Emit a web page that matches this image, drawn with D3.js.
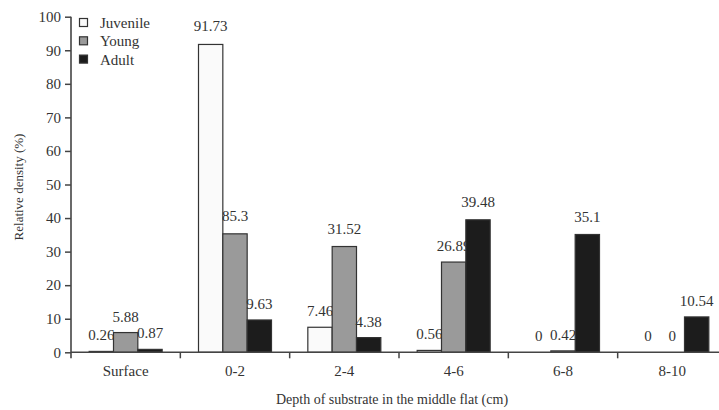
<!DOCTYPE html>
<html>
<head>
<meta charset="utf-8">
<script src="https://cdn.jsdelivr.net/npm/d3@7/dist/d3.min.js"></script>
<style>
  html, body { margin: 0; padding: 0; background: #fff; }
  svg { display: block; }
  text { font-family: "Liberation Serif", "Times New Roman", serif; fill: #333; }
</style>
</head>
<body>
<svg id="chart" width="719" height="410"></svg>
<script>
const categories = ["Surface", "0-2", "2-4", "4-6", "6-8", "8-10"];
const seriesNames = ["Juvenile", "Young", "Adult"];
const juvenile = [0.26, 91.73, 7.46, 0.56, 0, 0];
const young = [5.88, 35.3, 31.52, 26.89, 0.42, 0];
const adult = [0.87, 9.63, 4.38, 39.48, 35.1, 10.54];
const juvenileLabels = ["0.26", "91.73", "7.46", "0.56", "0", "0"];
const youngLabels = ["5.88", "85.3", "31.52", "26.89", "0.42", "0"];
const adultLabels = ["0.87", "9.63", "4.38", "39.48", "35.1", "10.54"];
const yTicks = [0, 10, 20, 30, 40, 50, 60, 70, 80, 90, 100];
const colors = ["#fafafa", "#9a9a9a", "#1c1c1c"];

const values = [juvenile, young, adult];
const labels = [juvenileLabels, youngLabels, adultLabels];

const svg = d3.select("#chart");
const mLeft = 71, mRight = 727, mTop = 16.7, mBottom = 352.3;

const x = d3.scaleBand().domain(categories).range([mLeft, mRight]).padding(0);
const xs = d3.scaleBand().domain(seriesNames).range([0, 73]);
const y = d3.scaleLinear().domain([0, 100]).range([mBottom, mTop]);
const groupOffset = (x.bandwidth() - 73) / 2;

// bars
const g = svg.append("g");
seriesNames.forEach((s, si) => {
  const sg = g.append("g");
  sg.selectAll("rect").data(categories).enter().append("rect")
    .attr("x", (c) => x(c) + groupOffset + xs(s))
    .attr("width", xs.bandwidth())
    .attr("y", (c, i) => y(values[si][i]))
    .attr("height", (c, i) => y(0) - y(values[si][i]))
    .attr("fill", colors[si])
    .attr("stroke", "#333")
    .attr("stroke-width", 1.2);
  sg.selectAll("text").data(categories).enter().append("text")
    .attr("x", (c) => x(c) + groupOffset + xs(s) + xs.bandwidth() / 2)
    .attr("y", (c, i) => y(values[si][i]) - (values[si][i] > 30 ? 13 : 11))
    .attr("text-anchor", "middle")
    .attr("font-size", 15)
    .text((c, i) => labels[si][i]);
});

// y axis
const yAxis = d3.axisLeft(y).tickValues(yTicks).tickSize(6).tickSizeOuter(0).tickPadding(4);
const ya = svg.append("g").attr("transform", `translate(${mLeft},0)`).call(yAxis);
ya.select(".domain").attr("stroke", "#444").attr("stroke-width", 1.6)
  .attr("d", `M0,${y(100)}V${mBottom + 6}`);
ya.selectAll(".tick line").attr("stroke", "#444").attr("stroke-width", 1.5);
ya.selectAll(".tick text").attr("font-size", 15).attr("font-family", "Liberation Serif").attr("fill", "#333");

// x axis
const xa = svg.append("g").attr("transform", `translate(0,${mBottom})`);
xa.append("path").attr("d", `M${mLeft},0H${mRight}`).attr("stroke", "#444").attr("stroke-width", 1.6).attr("fill", "none");
xa.selectAll("line.tk").data(categories.slice(1)).enter().append("line")
  .attr("x1", (c) => x(c)).attr("x2", (c) => x(c))
  .attr("y1", 0).attr("y2", 6).attr("stroke", "#444").attr("stroke-width", 1.5);
xa.selectAll("text.cat").data(categories).enter().append("text")
  .attr("x", (c) => x(c) + x.bandwidth() / 2)
  .attr("y", 24)
  .attr("text-anchor", "middle")
  .attr("font-size", 15)
  .text((c) => c);

// axis titles
svg.append("text")
  .attr("x", (mLeft + 719) / 2 - 3)
  .attr("y", 404)
  .attr("text-anchor", "middle")
  .attr("font-size", 14)
  .text("Depth of substrate in the middle flat (cm)");
svg.append("text")
  .attr("transform", `translate(23,187) rotate(-90)`)
  .attr("text-anchor", "middle")
  .attr("font-size", 13)
  .text("Relative density (%)");

// legend
const lg = svg.append("g");
seriesNames.forEach((s, i) => {
  lg.append("rect").attr("x", 79.5).attr("y", 18.5 + i * 18.3)
    .attr("width", 8).attr("height", 8)
    .attr("fill", colors[i]).attr("stroke", "#333").attr("stroke-width", 1.2);
  lg.append("text").attr("x", 100).attr("y", 28 + i * 18.3)
    .attr("font-size", 15).text(s);
});
</script>
</body>
</html>
